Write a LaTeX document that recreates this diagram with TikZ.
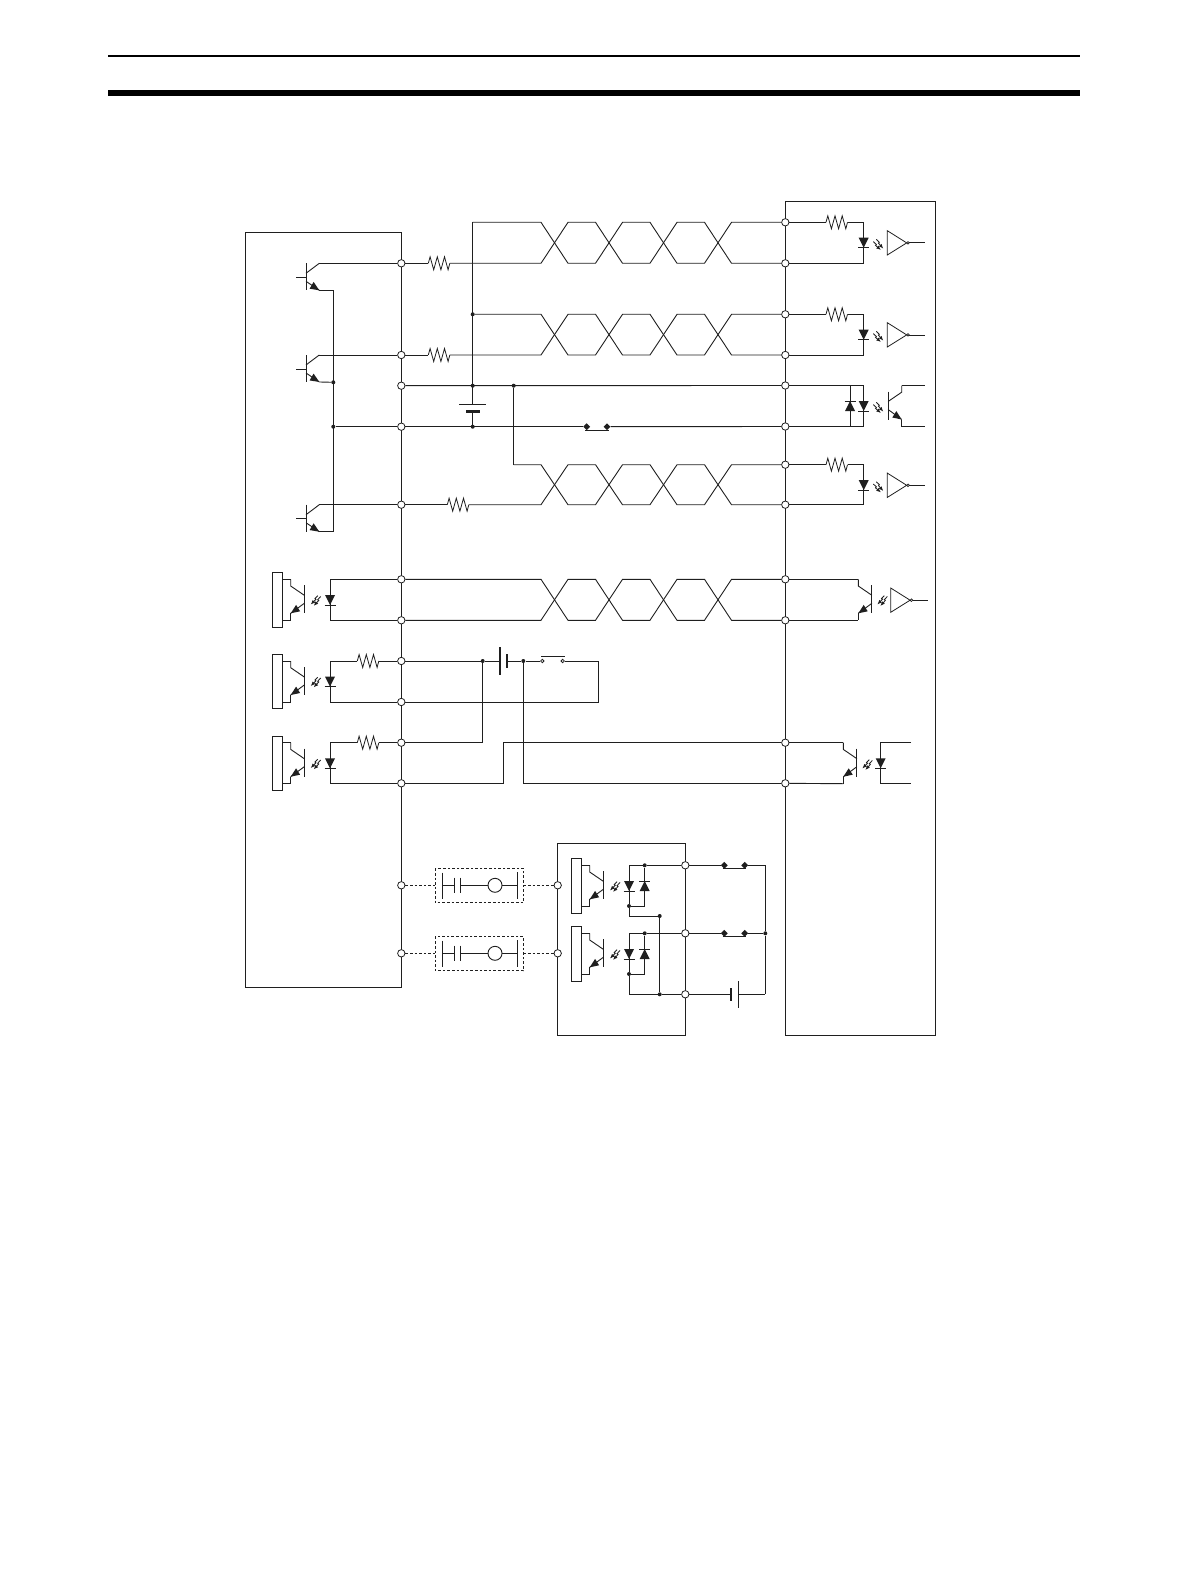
\documentclass[tikz,border=0pt]{standalone}
\usetikzlibrary{arrows.meta,shapes.geometric}
\tikzset{
  wire/.style={line width=0.9pt,line join=miter},
  plate/.style={line width=0.9pt},
  thickplate/.style={line width=2.6pt},
  dashwire/.style={line width=0.9pt,dash pattern=on 2.6pt off 2pt},
  term/.style={circle,draw,fill=white,inner sep=0pt,minimum size=7.4pt,line width=0.8pt},
  dot/.style={circle,fill,inner sep=0pt,minimum size=4pt},
  bigdot/.style={diamond,fill,inner sep=0pt,minimum size=7pt},
  opencontact/.style={circle,draw,fill=white,inner sep=0pt,minimum size=3.4pt,line width=0.8pt},
  lightline/.style={line width=0.85pt,-{Latex[length=4.6pt,width=3.8pt]}},
  res/.pic={
    \draw[line width=0.8pt] (0,0)--(1.8,-6.5)--(5.4,6.5)--(9,-6.5)--(12.6,6.5)--(16.2,-6.5)--(19.8,6.5)--(21.5,0);
    \coordinate (-a) at (0,0); \coordinate (-b) at (21.5,0);
  },
  ddown/.pic={
    \fill (-5,0)--(5,0)--(0,10)--cycle;
    \draw[line width=0.9pt] (-5.5,10)--(5.5,10);
  },
  dup/.pic={
    \fill (-5,10)--(5,10)--(0,0)--cycle;
    \draw[line width=0.9pt] (-5.5,0)--(5.5,0);
  },
  lightl/.pic={
    \draw[lightline] (-3,-0.8)--(-5.8,2)--(-4.8,2.8)--(-10,8);
    \draw[lightline] (0,0)--(-3,3.2)--(-2,4)--(-7,9.4);
  },
  lightr/.pic={
    \draw[lightline] (0,1.6)--(3,4.4)--(2.2,5.4)--(7.6,10);
    \draw[lightline] (3,-0.6)--(6,2.2)--(5.2,3.2)--(10,8.6);
  },
  npn/.pic={
    \draw[line width=0.9pt] (0,0)--(0,27);
    \draw[wire] (-10,14)--(0,14);
    \draw[wire] (0,10)--(13.3,0);
    \draw[wire] (0,18)--(13.3,27);
    \fill (13.3,27)--(3.6,25.4)--(7.6,18.6)--cycle;
    \coordinate (-c) at (13.3,0); \coordinate (-e) at (13.3,27);
  },
  photo/.pic={
    \draw[wire] (0,0)--(0,6.7)--(13.6,16);
    \draw[line width=0.9pt] (13.6,6)--(13.6,34);
    \draw[wire] (13.6,24)--(0,34);
    \fill (0,34)--(9.4,32)--(5.4,25.6)--cycle;
    \draw[wire] (0,34)--(0,41);
    \coordinate (-c) at (0,0); \coordinate (-e) at (0,41);
  },
  optoplate/.pic={
    \draw[wire] (-10.4,-6.7) rectangle (0,47.7);
    \draw[wire] (0,0)--(8,0);
    \draw[wire] (0,41)--(8,41);
    \pic at (8,0) {photo};
  },
  inv/.pic={
    \draw[line width=0.8pt] (0,0)--(0,24.3)--(19.4,12.2)--cycle;
    \draw[line width=0.7pt] (20.7,12.2) circle (1.3);
    \draw[line width=0.8pt] (22,12.2)--(37.7,12.2);
  },
  relay/.pic={
    \draw[wire] (0,-12.6)--(0,13.7);
    \draw[wire] (0,0)--(12,0);
    \draw[wire] (12,-7.6)--(12,7.4);
    \draw[wire] (18.7,-7.6)--(18.7,7.4);
    \draw[wire] (18.7,0)--(46,0);
    \draw[wire,fill=white] (53,0) circle (7);
    \draw[wire] (60,0)--(75,0);
    \draw[wire] (75,-13)--(75,13.7);
  },
}
\newcommand{\twistpair}[6]{%
  \draw[wire] (#1)--(541,#5)--(568,#6)--(595.5,#6)--(622.5,#5)--(650,#5)--(677,#6)--(704.5,#6)--(731.5,#5)--(#3);
  \draw[wire] (#2)--(541,#6)--(568,#5)--(595.5,#5)--(622.5,#6)--(650,#6)--(677,#5)--(704.5,#5)--(731.5,#6)--(#4);
}
\begin{document}
\begin{tikzpicture}[x=1pt,y=-1pt,color=black!88]
\useasboundingbox (0,0) rectangle (1190,1586);
\fill[black] (108,54.8) rectangle (1080,57);
\fill[black] (108,90) rectangle (1080,96);
% enclosures
\draw[wire] (245,987.7)--(245,232.7)--(401.3,232.7)--(401.3,987.7)--cycle;
\draw[wire] (785.3,201.7) rectangle (935,1035.5);
\draw[wire] (557.7,843.3) rectangle (685.3,1035.5);
% terminals
\foreach \n/\y in {La/263.3,Lb/355,Lc/385.7,Ld/426.7,Le/504.7,Lf/579.3,Lg/620.3,Lh/661,Li/702,Lj/742.7,Lk/783.3,Ll/885.3,Lm/953.3}
  \node[term] (\n) at (401.3,\y) {};
\foreach \n/\y in {Ra/222.3,Rb/263.3,Rc/314.3,Rd/355,Re/385.5,Rf/426.5,Rg/464.7,Rh/504.7,Ri/579.3,Rj/620.3,Rk/742.7,Rl/783.3}
  \node[term] (\n) at (785.3,\y) {};
\node[term] (Ca) at (557.7,885.3) {};
\node[term] (Cb) at (557.7,953.3) {};
\node[term] (Da) at (685.3,865.3) {};
\node[term] (Db) at (685.3,933.3) {};
\node[term] (Dc) at (685.3,994.3) {};
% left resistors and transistors
\pic (Ra1) at (428.3,263.3) {res};
\pic (Ra2) at (428.3,355) {res};
\pic (Ra3) at (447.3,504.7) {res};
\pic (T1) at (306,263.3) {npn};
\pic (T2) at (306,355) {npn};
\pic (T3) at (306,504.7) {npn};
\draw[wire] (T1-c)--(La);
\draw[wire] (T2-c)--(Lb);
\draw[wire] (T3-c)--(Le);
\draw[wire] (La)--(Ra1-a);
\draw[wire] (Lb)--(Ra2-a);
\draw[wire] (Le)--(Ra3-a);
\node[dot] (dE2) at (333.3,382.3) {};
\node[dot] (dBus) at (333.3,426.7) {};
\coordinate (cE1) at (333.3,290.3);
\coordinate (cE3) at (333.3,531.7);
\draw[wire] (T1-e)--(cE1)--(cE3)--(T3-e);
\draw[wire] (T2-e)--(dE2);
\draw[wire] (dBus)--(Ld);
% upper twisted pairs
\coordinate (tA) at (472.7,222.3);
\node[dot] (dC) at (472.7,314.3) {};
\node[dot] (dP) at (472.7,385.7) {};
\node[dot] (dN) at (472.7,426.7) {};
\node[dot] (dQ) at (513.7,385.7) {};
\coordinate (tG) at (513.7,464.7);
\coordinate (pA) at (472.7,404.3);
\coordinate (pB) at (472.7,411.3);
\draw[wire] (tA)--(pA);
\draw[wire] (pB)--(dN);
\draw[plate] (459,404.3)--(485.7,404.3);
\draw[thickplate] (466,411.3)--(480,411.3);
\twistpair{tA}{Ra1-b}{Ra}{Rb}{222.3}{263.3}
\twistpair{dC}{Ra2-b}{Rc}{Rd}{314.3}{355}
\twistpair{tG}{Ra3-b}{Rg}{Rh}{464.7}{504.7}
\draw[wire] (dQ)--(tG);
\twistpair{Lf}{Lg}{Ri}{Rj}{579.3}{620.3}
\draw[wire] (Lc)--(Re);
\node[bigdot] (k1) at (586.7,426.7) {};
\node[bigdot] (k2) at (607,426.7) {};
\draw[wire] (Ld)--(k1);
\draw[wire] (k2)--(Rf);
\draw[wire] (585,430.3)--(608.7,430.3);
% right receivers
\foreach \p/\y/\a/\b in {A/222.3/Ra/Rb,B/314.3/Rc/Rd,C/464.7/Rg/Rh}{
  \pic (Q\p) at (826,\y) {res};
  \draw[wire] (\a)--(Q\p-a);
  \coordinate (s\p) at (863.7,\y);
  \pgfmathsetmacro{\dy}{\y+15.4}
  \pgfmathsetmacro{\ly}{\y+17.7}
  \pgfmathsetmacro{\iy}{\y+8.4}
  \draw[wire] (Q\p-b)--(s\p)--(\b-|s\p)--(\b);
  \pic at (863.7,\dy) {ddown};
  \pic at (873.3,\ly) {lightr};
  \pic at (887.3,\iy) {inv};
}
% opto on rows 385/426
\coordinate (sE) at (863.7,385.5);
\coordinate (sF) at (863.7,426.5);
\coordinate (uE) at (850,385.5);
\coordinate (uF) at (850,426.5);
\draw[wire] (Re)--(sE)--(sF)--(Rf);
\draw[wire] (uE)--(uF);
\pic at (863.7,401) {ddown};
\pic at (850,401) {dup};
\pic at (873.3,403) {lightr};
\pic[xscale=-1] (PF) at (901.7,385.5) {photo};
\coordinate (oE) at (925,385.5);
\coordinate (oF) at (925,426.5);
\draw[wire] (PF-c)--(oE);
\draw[wire] (PF-e)--(oF);
% opto row 579/620 right
\pic (PA) at (858.3,579.3) {photo};
\draw[wire] (Ri)--(PA-c);
\draw[wire] (Rj)--(PA-e);
\pic at (887.3,596.5) {lightl};
\pic at (890.7,588) {inv};
% left optos
\pic at (282.7,579.3) {optoplate};
\pic at (282.7,661) {optoplate};
\pic at (282.7,742.7) {optoplate};
\pic at (320.7,596.5) {lightl};
\pic at (320.7,678) {lightl};
\pic at (320.7,760) {lightl};
\foreach \a/\b/\y in {Lf/Lg/579.3,Lh/Li/661,Lj/Lk/742.7}{
  \pgfmathsetmacro{\dy}{\y+15.7}
  \pic at (330,\dy) {ddown};
}
\coordinate (eF) at (330,579.3);
\coordinate (eG) at (330,620.3);
\draw[wire] (Lf)--(eF)--(eG)--(Lg);
\coordinate (eH) at (330,661);
\coordinate (eI) at (330,702);
\pic (Rh1) at (357.3,661) {res};
\draw[wire] (Lh)--(Rh1-b);
\draw[wire] (Rh1-a)--(eH)--(eI)--(Li);
\coordinate (eJ) at (330,742.7);
\coordinate (eK) at (330,783.3);
\pic (Rj1) at (357.3,742.7) {res};
\draw[wire] (Lj)--(Rj1-b);
\draw[wire] (Rj1-a)--(eJ)--(eK)--(Lk);
% battery and switch row 661
\node[dot] (dH) at (482.7,661) {};
\node[dot] (dS) at (523.3,661) {};
\node[opencontact] (sw1) at (542.3,661) {};
\node[opencontact] (sw2) at (562.7,661) {};
\coordinate (bL) at (500,661);
\coordinate (bS) at (507,661);
\coordinate (swT) at (598.7,661);
\coordinate (swB) at (598.7,702);
\draw[wire] (Lh)--(dH);
\draw[wire] (dH)--(bL);
\draw[wire] (bS)--(dS)--(sw1);
\draw[line width=2.2pt] (500,647.3)--(500,675);
\draw[line width=2.2pt] (507,654)--(507,668);
\draw[wire] (sw2)--(swT)--(swB)--(Li);
\draw[wire] (541,656)--(565,656);
\coordinate (cJ) at (482.7,742.7);
\draw[wire] (dH)--(cJ)--(Lj);
\coordinate (cK1) at (503.3,783.3);
\coordinate (cK2) at (503.3,742.7);
\draw[wire] (Lk)--(cK1)--(cK2)--(Rk);
\coordinate (cL) at (523.3,783.3);
\draw[wire] (dS)--(cL)--(Rl);
% output opto row 742/783
\pic (PB) at (843.3,742.7) {photo};
\draw[wire] (Rk)--(PB-c);
\draw[wire] (Rl)--(PB-e);
\pic at (872.3,760.5) {lightl};
\pic at (880.7,758.3) {ddown};
\coordinate (oK) at (911,742.7);
\coordinate (oL) at (911,783.3);
\coordinate (vK) at (880.7,742.7);
\coordinate (vL) at (880.7,783.3);
\draw[wire] (oK)--(vK)--(vL)--(oL);
% relays with dashed boxes
\draw[dashwire] (435.3,868.3) rectangle (523.3,902.7);
\draw[dashwire] (435.3,936.7) rectangle (523.3,970.7);
\coordinate (ba1) at (435.3,885.3);
\coordinate (ba2) at (523.3,885.3);
\coordinate (bb1) at (435.3,953.3);
\coordinate (bb2) at (523.3,953.3);
\draw[dashwire] (Ll)--(ba1);
\draw[dashwire] (ba2)--(Ca);
\draw[dashwire] (Lm)--(bb1);
\draw[dashwire] (bb2)--(Cb);
\pic at (442,885.3) {relay};
\pic at (442,953.3) {relay};
% lower opto pair
\pic at (581.7,865.3) {optoplate};
\pic at (581.7,933.3) {optoplate};
\pic at (620,882.5) {lightl};
\pic at (620,950.5) {lightl};
\node[dot] (nA) at (644.7,865.3) {};
\node[dot] (nB) at (644.7,933.3) {};
\node[dot] (nC) at (629,906) {};
\node[dot] (nD) at (629,974) {};
\node[dot] (nE) at (659.7,916) {};
\node[dot] (nF) at (659.7,994.3) {};
\coordinate (mA) at (629,865.3);
\coordinate (mB) at (629,933.3);
\coordinate (mC) at (644.7,906);
\coordinate (mD) at (644.7,974);
\coordinate (mE) at (629,916);
\coordinate (mF) at (629,994.3);
\draw[wire] (Da)--(nA)--(mA)--(nC);
\draw[wire] (nA)--(mC)--(nC);
\draw[wire] (nC)--(mE)--(nE)--(nF);
\draw[wire] (Db)--(nB)--(mB)--(nD);
\draw[wire] (nB)--(mD)--(nD);
\draw[wire] (nD)--(mF)--(nF)--(Dc);
\pic at (629,881) {ddown};
\pic at (644.7,881) {dup};
\pic at (629,949) {ddown};
\pic at (644.7,949) {dup};
% contacts on the right
\node[bigdot] (g1) at (724.3,865.3) {};
\node[bigdot] (g2) at (744.7,865.3) {};
\node[bigdot] (h1) at (724.3,933.3) {};
\node[bigdot] (h2) at (744.7,933.3) {};
\node[dot] (hR) at (765.3,933.3) {};
\coordinate (gR) at (765.3,865.3);
\coordinate (bR) at (765.3,994.3);
\draw[wire] (Da)--(g1);
\draw[wire] (g2)--(gR)--(hR)--(bR);
\draw[wire] (Db)--(h1);
\draw[wire] (h2)--(hR);
\draw[wire] (722.6,868.5)--(746.4,868.5);
\draw[wire] (722.6,936.5)--(746.4,936.5);
\coordinate (cA) at (731,994.3);
\coordinate (cB) at (738.3,994.3);
\draw[wire] (Dc)--(cA);
\draw[wire] (cB)--(bR);
\draw[line width=2.2pt] (731,988.3)--(731,1000.7);
\draw[line width=1pt] (738.3,981)--(738.3,1007.7);
\end{tikzpicture}
\end{document}
